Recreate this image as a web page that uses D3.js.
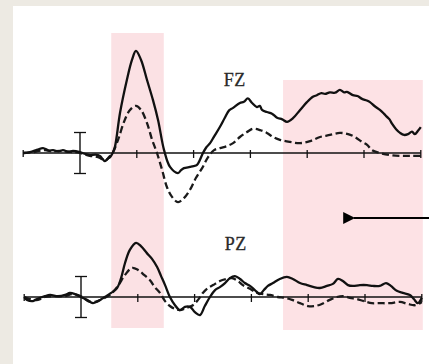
<!DOCTYPE html>
<html>
<head>
<meta charset="utf-8">
<script src="https://cdn.jsdelivr.net/npm/d3@7"></script>
<style>
  html, body { margin: 0; padding: 0; background: #edeae3; }
  svg { display: block; }
</style>
</head>
<body>
<svg id="chart" width="429" height="364"></svg>
<script>
// ERP waveforms, time in ms, amplitude in microvolts (positive up)
var ticksMs = [0, 200, 400, 600, 800, 1000, 1200];
var shaded = [[110, 295], [715, 1200]];   // shaded windows (ms)
var channels = ["FZ", "PZ"];

var fzSolid = [[-200,0],[-176,0.2],[-150,0.8],[-130,1.2],[-110,0.6],[-95,0.7],[-75,0.4],[-60,0.7],[-40,0.3],[-25,0.5],[0,0.2],[20,-0.3],[35,-0.5],[55,-0.4],[70,-0.7],[80,-1.5],[88,-2],[98,-1.4],[106,-1],[115,0],[123,1.5],[141,9.8],[165,17.8],[183,22.7],[197,24.9],[215,22.7],[236,17.8],[257,12.9],[275,8],[296,0.7],[317,-3.4],[345,-4.9],[356,-4.2],[366,-3.7],[387,-3.4],[400,-3.2],[412,-2.9],[433,0],[445,1.4],[458,2.4],[472,4],[493,6.4],[510,8.6],[525,10.4],[539,11],[563,12.2],[577,12.5],[591,13.3],[606,12.2],[623,11.2],[633,11.5],[641,10.5],[658,10],[676,9.6],[694,8.6],[712,8.2],[729,7.6],[750,8.5],[775,10.5],[799,12.4],[820,13.7],[834,14.1],[850,14.6],[863,14.4],[880,14.8],[898,14.7],[915,15.4],[930,14.8],[940,14.9],[961,14.1],[977,13.9],[993,13.2],[1010,12.8],[1021,12.4],[1038,11.4],[1056,10.5],[1070,9.6],[1081,8.8],[1090,8.2],[1098,7.2],[1113,5.8],[1127,4.9],[1141,4.4],[1155,4.6],[1169,5.2],[1179,4.6],[1190,5.4],[1200,6.3]];

var fzDashed = [[-200,0],[-180,0.1],[-158,0.3],[-140,0.6],[-123,0.7],[-100,0.4],[-70,0.5],[-45,0.3],[-18,0.2],[0,0],[20,-0.4],[35,-0.7],[55,-0.9],[70,-1.2],[80,-1.6],[92,-1.7],[102,-1],[113,-0.2],[134,3.2],[155,7.6],[176,10.5],[197,11.5],[215,10.5],[236,7.3],[254,3.2],[271,0],[289,-4.1],[306,-8.3],[324,-10.7],[345,-12],[366,-11],[387,-9],[408,-6.1],[430,-3.7],[451,-1],[472,0.7],[493,1.2],[518,1.7],[539,2.4],[563,3.9],[588,5.1],[609,5.9],[634,5.6],[658,4.9],[680,3.9],[704,3.2],[739,2.7],[775,2.4],[810,2.9],[845,3.9],[880,4.4],[915,4.9],[944,4.6],[968,3.9],[993,2.7],[1011,2],[1028,0.7],[1056,0],[1091,-0.5],[1127,-0.7],[1162,-0.7],[1200,-0.7]];

var pzSolid = [[-200,0],[-190,-0.7],[-169,-1],[-155,-0.5],[-127,0.2],[-109,0.5],[-81,0.2],[-56,0.5],[-39,1],[-21,0.7],[0,0],[21,-0.7],[42,-1.5],[60,-1],[84,0],[106,1],[127,2.2],[141,4.6],[155,8.3],[172,11.5],[194,13.2],[211,12.4],[232,10.7],[250,9.3],[268,7.3],[282,5.1],[296,2.9],[313,0],[331,-2],[348,-3.2],[366,-2.4],[384,-2.4],[401,-3.7],[419,-4.4],[436,-2.2],[454,0],[472,1.7],[489,2.4],[507,3.4],[524,4.6],[542,5.1],[560,4.4],[577,3.4],[595,2.7],[612,1.7],[630,0.7],[644,1.7],[658,2.7],[676,3.4],[700,4.4],[725,4.9],[746,4.4],[771,3.4],[796,2.9],[820,2.4],[841,2.2],[866,2.7],[887,3.2],[905,4.4],[922,3.9],[940,2.9],[957,2.7],[982,2.9],[1007,2.9],[1028,2.7],[1052,2.7],[1074,3.4],[1091,2.7],[1112,1.5],[1133,1],[1158,0.5],[1172,-0.5],[1186,-1.5],[1200,-0.2]];

var pzDashed = [[-200,0],[-180,-0.5],[-151,-0.7],[-127,0],[-92,0.2],[-56,0.2],[-32,0.7],[0,0.2],[25,-1],[49,-1.2],[74,-0.5],[102,0.5],[130,2.7],[155,5.4],[180,7.1],[201,6.6],[222,5.4],[243,4.1],[260,2.4],[278,1],[296,-1],[313,-2.2],[331,-2.9],[348,-3.2],[370,-2.7],[394,-2],[412,-0.7],[429,1],[447,2.2],[465,2.9],[489,3.9],[514,4.4],[532,4.6],[553,3.9],[570,2.9],[595,2],[620,1],[641,0.7],[665,0.5],[693,0],[718,-0.2],[743,-0.7],[771,-1.5],[799,-2.2],[824,-2.2],[848,-1.7],[876,-0.7],[901,0],[926,0.2],[947,-0.2],[971,-0.5],[996,-1],[1024,-1.5],[1052,-1.5],[1088,-1.5],[1123,-1.2],[1151,-1.7],[1176,-2],[1200,-1.2]];

var svg = d3.select("#chart");

// white paper
svg.append("rect")
  .attr("x", 13).attr("y", 6)
  .attr("width", 429 - 13).attr("height", 364 - 6)
  .attr("fill", "#ffffff");

// panel layout
var panels = [
  {name: channels[0], solid: fzSolid, dashed: fzDashed, x0: 80, base: 153, labelY: 86},
  {name: channels[1], solid: pzSolid, dashed: pzDashed, x0: 81, base: 297, labelY: 250}
];
var msPx = 56.8 / 200;

function xScale(p) {
  return d3.scaleLinear().domain([-200, 1200])
    .range([p.x0 - 200 * msPx, p.x0 + 1200 * msPx]);
}
function yScale(p) {
  return d3.scaleLinear().domain([-5, 5]).range([p.base + 20.5, p.base - 20.5]);
}

// shaded windows spanning both panels (use FZ scale)
var xs0 = xScale(panels[0]);
svg.append("rect")
  .attr("x", xs0(shaded[0][0])).attr("y", 33)
  .attr("width", xs0(shaded[0][1]) - xs0(shaded[0][0])).attr("height", 328 - 33)
  .attr("fill", "#fbe1e4");
svg.append("rect")
  .attr("x", xs0(shaded[1][0])).attr("y", 80)
  .attr("width", xs0(shaded[1][1]) - xs0(shaded[1][0]) + 2).attr("height", 330 - 80)
  .attr("fill", "#fde2e5");

panels.forEach(function(p) {
  var x = xScale(p), y = yScale(p);
  var g = svg.append("g");

  // baseline
  g.append("line")
    .attr("x1", x(-200)).attr("x2", x(1200))
    .attr("y1", y(0)).attr("y2", y(0))
    .attr("stroke", "#111").attr("stroke-width", 1.4);

  // time ticks
  g.selectAll(".tick").data(ticksMs.slice(1)).enter().append("line")
    .attr("x1", function(d){ return x(d); }).attr("x2", function(d){ return x(d); })
    .attr("y1", y(0) - 3).attr("y2", y(0) + 5)
    .attr("stroke", "#111").attr("stroke-width", 1.3);
  // left end cap
  g.append("line")
    .attr("x1", x(-200)).attr("x2", x(-200))
    .attr("y1", y(0) - 3).attr("y2", y(0) + 4)
    .attr("stroke", "#111").attr("stroke-width", 1.3);

  // calibration / onset marker  (+-5 uV)
  g.append("line")
    .attr("x1", x(0)).attr("x2", x(0))
    .attr("y1", y(5)).attr("y2", y(-5))
    .attr("stroke", "#111").attr("stroke-width", 1.4);
  [5, -5].forEach(function(v) {
    g.append("line")
      .attr("x1", x(0) - 6).attr("x2", x(0) + 6)
      .attr("y1", y(v)).attr("y2", y(v))
      .attr("stroke", "#111").attr("stroke-width", 1.3);
  });

  var line = d3.line()
    .x(function(d){ return x(d[0]); })
    .y(function(d){ return y(d[1]); })
    .curve(d3.curveCatmullRom.alpha(0.5));

  g.append("path").datum(p.dashed)
    .attr("d", line).attr("fill", "none")
    .attr("stroke", "#1a1a1a").attr("stroke-width", 2.3)
    .attr("stroke-dasharray", "7,3.5");

  g.append("path").datum(p.solid)
    .attr("d", line).attr("fill", "none")
    .attr("stroke", "#111").attr("stroke-width", 2.3);

  g.append("text")
    .attr("x", x(545)).attr("y", p.labelY)
    .attr("text-anchor", "middle")
    .attr("font-family", "'Liberation Serif', serif")
    .attr("font-size", 18)
    .attr("letter-spacing", 0.5)
    .attr("fill", "#2a2a2a")
    .attr("stroke", "#2a2a2a").attr("stroke-width", 0.3)
    .text(p.name);
});

// arrow pointing into the late window
svg.append("defs").append("marker")
  .attr("id", "head").attr("viewBox", "0 0 10 10")
  .attr("refX", 1).attr("refY", 5)
  .attr("markerWidth", 7.5).attr("markerHeight", 6)
  .attr("markerUnits", "strokeWidth")
  .attr("orient", "auto-start-reverse")
  .append("path").attr("d", "M0,5 L10,0 L10,10 Z").attr("fill", "#000");

svg.append("line")
  .attr("x1", 354).attr("x2", 429)
  .attr("y1", 218).attr("y2", 218)
  .attr("stroke", "#000").attr("stroke-width", 2)
  .attr("marker-start", "url(#head)");
</script>
</body>
</html>
